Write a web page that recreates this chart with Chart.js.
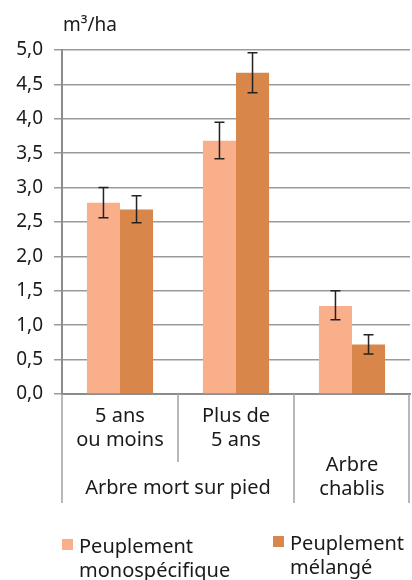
<!DOCTYPE html>
<html>
<head>
<meta charset="utf-8">
<script src="https://cdn.jsdelivr.net/npm/chart.js@4.4.1/dist/chart.umd.min.js"></script>
<style>
  html, body { margin: 0; padding: 0; background: #fff; }
  #wrap { width: 412px; height: 580px; }
</style>
</head>
<body>
<div id="wrap"><canvas id="myChart" width="412" height="580"></canvas></div>
<script>
// data
const categories = ['5 ans ou moins', 'Plus de 5 ans', 'Arbre chablis'];
const tickLabels = [['5 ans', 'ou moins'], ['Plus de', '5 ans'], ['', '', 'Arbre', 'chablis']];
const groupLabel = 'Arbre mort sur pied';   // spans the first two categories
const unitLabel = 'm³/ha';

const monoValues = [2.78, 3.68, 1.28];
const monoErrLow = [2.56, 3.42, 1.08];
const monoErrHigh = [3.00, 3.95, 1.50];

const melValues = [2.68, 4.67, 0.72];
const melErrLow = [2.49, 4.38, 0.58];
const melErrHigh = [2.88, 4.96, 0.86];

const seriesNames = ['Peuplement monospécifique', 'Peuplement mélangé'];
const seriesColors = ['#F9AF8A', '#D8864A'];

const FONT = "'Noto Sans', sans-serif";
const textColor = '#1a1a1a';

// error bars on top of each bar
const errorBars = {
    id: 'errorBars',
    afterDatasetsDraw(chart) {
        const ctx = chart.ctx;
        const y = chart.scales.y;
        ctx.save();
        ctx.strokeStyle = '#222';
        ctx.lineWidth = 1.5;
        chart.data.datasets.forEach((ds, i) => {
            const meta = chart.getDatasetMeta(i);
            meta.data.forEach((bar, j) => {
                const top = y.getPixelForValue(ds.errHigh[j]);
                const bot = y.getPixelForValue(ds.errLow[j]);
                ctx.beginPath();
                ctx.moveTo(bar.x, top); ctx.lineTo(bar.x, bot);
                ctx.moveTo(bar.x - 5, top); ctx.lineTo(bar.x + 5, top);
                ctx.moveTo(bar.x - 5, bot); ctx.lineTo(bar.x + 5, bot);
                ctx.stroke();
            });
        });
        ctx.restore();
    }
};

// category separators, group label, unit label and legend
const extras = {
    id: 'extras',
    afterDraw(chart) {
        const ctx = chart.ctx;
        const x = chart.scales.x;
        const area = chart.chartArea;
        const step = (area.right - area.left) / categories.length;
        ctx.save();

        ctx.strokeStyle = '#a0a0a0';
        ctx.lineWidth = 1.5;
        const seps = [[area.left, 503], [area.left + step, 462], [area.left + 2 * step, 503], [area.right - 1, 503]];
        seps.forEach(s => {
            ctx.beginPath();
            ctx.moveTo(s[0], area.bottom);
            ctx.lineTo(s[0], s[1]);
            ctx.stroke();
        });

        ctx.fillStyle = textColor;
        ctx.font = '20px ' + FONT;
        ctx.textAlign = 'center';
        ctx.textBaseline = 'alphabetic';
        const gx = (x.getPixelForValue(0) + x.getPixelForValue(1)) / 2;
        ctx.fillText(groupLabel, gx, 494);

        ctx.font = '19px ' + FONT;
        ctx.textAlign = 'left';
        ctx.fillText(unitLabel, 63, 31);

        // legend, two lines per entry
        const legendPos = [[62, 539, 553], [273, 536, 550]];
        ctx.font = '20px ' + FONT;
        seriesNames.forEach((name, i) => {
            const p = legendPos[i];
            ctx.fillStyle = seriesColors[i];
            ctx.fillRect(p[0], p[1], 11, 11);
            ctx.fillStyle = textColor;
            const k = name.indexOf(' ');
            ctx.fillText(name.slice(0, k), p[0] + 17, p[2]);
            ctx.fillText(name.slice(k + 1), p[0] + 17, p[2] + 24);
        });
        ctx.restore();
    }
};

new Chart(document.getElementById('myChart').getContext('2d'), {
    type: 'bar',
    data: {
        labels: categories,
        datasets: [
            { label: seriesNames[0], data: monoValues, errLow: monoErrLow, errHigh: monoErrHigh,
              backgroundColor: seriesColors[0] },
            { label: seriesNames[1], data: melValues, errLow: melErrLow, errHigh: melErrHigh,
              backgroundColor: seriesColors[1] }
        ]
    },
    options: {
        responsive: false,
        animation: false,
        layout: { padding: { top: 50, right: 2, left: 0, bottom: 0 } },
        datasets: { bar: { categoryPercentage: 0.57, barPercentage: 1.0 } },
        plugins: { legend: { display: false }, tooltip: { enabled: false } },
        scales: {
            x: {
                grid: { drawOnChartArea: false, drawTicks: false },
                border: { color: '#8c8c8c', width: 2 },
                ticks: {
                    color: textColor,
                    font: { family: FONT, size: 20, lineHeight: '24.5px' },
                    padding: 10,
                    maxRotation: 0,
                    autoSkip: false,
                    callback: (v, i) => tickLabels[i]
                },
                afterFit: s => { s.height = 186; }
            },
            y: {
                min: 0,
                max: 5,
                ticks: {
                    stepSize: 0.5,
                    color: textColor,
                    padding: 11,
                    font: { family: FONT, size: 19 },
                    callback: v => v.toFixed(1).replace('.', ',')
                },
                grid: { color: '#9a9a9a', lineWidth: 1.5, tickLength: 8 },
                border: { color: '#8c8c8c', width: 2 },
                afterFit: s => { s.width = 62; }
            }
        }
    },
    plugins: [errorBars, extras]
});
</script>
</body>
</html>
